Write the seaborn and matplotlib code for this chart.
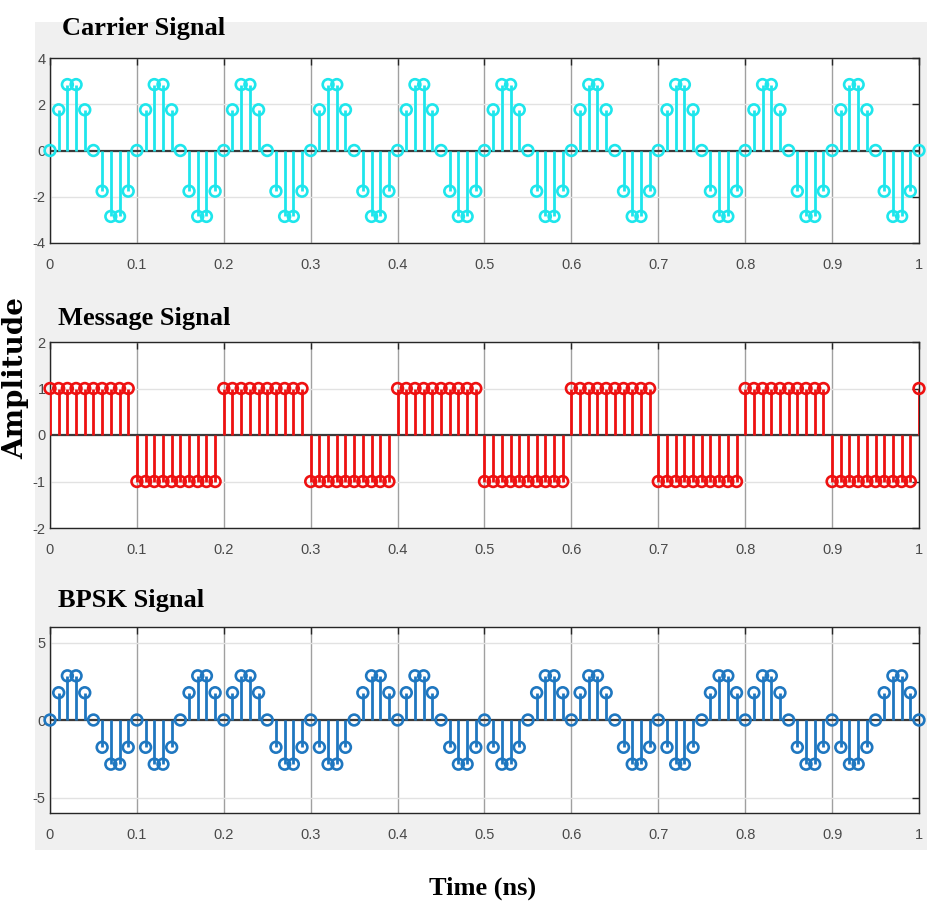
import matplotlib
matplotlib.use('Agg')
import matplotlib.pyplot as plt
import seaborn as sns
from matplotlib.patches import Rectangle

# ---------------- data ----------------
time_ns = [
    0.00, 0.01, 0.02, 0.03, 0.04, 0.05, 0.06, 0.07, 0.08, 0.09,
    0.10, 0.11, 0.12, 0.13, 0.14, 0.15, 0.16, 0.17, 0.18, 0.19,
    0.20, 0.21, 0.22, 0.23, 0.24, 0.25, 0.26, 0.27, 0.28, 0.29,
    0.30, 0.31, 0.32, 0.33, 0.34, 0.35, 0.36, 0.37, 0.38, 0.39,
    0.40, 0.41, 0.42, 0.43, 0.44, 0.45, 0.46, 0.47, 0.48, 0.49,
    0.50, 0.51, 0.52, 0.53, 0.54, 0.55, 0.56, 0.57, 0.58, 0.59,
    0.60, 0.61, 0.62, 0.63, 0.64, 0.65, 0.66, 0.67, 0.68, 0.69,
    0.70, 0.71, 0.72, 0.73, 0.74, 0.75, 0.76, 0.77, 0.78, 0.79,
    0.80, 0.81, 0.82, 0.83, 0.84, 0.85, 0.86, 0.87, 0.88, 0.89,
    0.90, 0.91, 0.92, 0.93, 0.94, 0.95, 0.96, 0.97, 0.98, 0.99,
    1.00,
]

carrier_amp = [
    0, 1.76, 2.85, 2.85, 1.76, 0, -1.76, -2.85, -2.85, -1.76,
    0, 1.76, 2.85, 2.85, 1.76, 0, -1.76, -2.85, -2.85, -1.76,
    0, 1.76, 2.85, 2.85, 1.76, 0, -1.76, -2.85, -2.85, -1.76,
    0, 1.76, 2.85, 2.85, 1.76, 0, -1.76, -2.85, -2.85, -1.76,
    0, 1.76, 2.85, 2.85, 1.76, 0, -1.76, -2.85, -2.85, -1.76,
    0, 1.76, 2.85, 2.85, 1.76, 0, -1.76, -2.85, -2.85, -1.76,
    0, 1.76, 2.85, 2.85, 1.76, 0, -1.76, -2.85, -2.85, -1.76,
    0, 1.76, 2.85, 2.85, 1.76, 0, -1.76, -2.85, -2.85, -1.76,
    0, 1.76, 2.85, 2.85, 1.76, 0, -1.76, -2.85, -2.85, -1.76,
    0, 1.76, 2.85, 2.85, 1.76, 0, -1.76, -2.85, -2.85, -1.76,
    0,
]

message_amp = [
    1, 1, 1, 1, 1, 1, 1, 1, 1, 1,
    -1, -1, -1, -1, -1, -1, -1, -1, -1, -1,
    1, 1, 1, 1, 1, 1, 1, 1, 1, 1,
    -1, -1, -1, -1, -1, -1, -1, -1, -1, -1,
    1, 1, 1, 1, 1, 1, 1, 1, 1, 1,
    -1, -1, -1, -1, -1, -1, -1, -1, -1, -1,
    1, 1, 1, 1, 1, 1, 1, 1, 1, 1,
    -1, -1, -1, -1, -1, -1, -1, -1, -1, -1,
    1, 1, 1, 1, 1, 1, 1, 1, 1, 1,
    -1, -1, -1, -1, -1, -1, -1, -1, -1, -1,
    1,
]

bpsk_amp = [
    0, 1.76, 2.85, 2.85, 1.76, 0, -1.76, -2.85, -2.85, -1.76,
    0, -1.76, -2.85, -2.85, -1.76, 0, 1.76, 2.85, 2.85, 1.76,
    0, 1.76, 2.85, 2.85, 1.76, 0, -1.76, -2.85, -2.85, -1.76,
    0, -1.76, -2.85, -2.85, -1.76, 0, 1.76, 2.85, 2.85, 1.76,
    0, 1.76, 2.85, 2.85, 1.76, 0, -1.76, -2.85, -2.85, -1.76,
    0, -1.76, -2.85, -2.85, -1.76, 0, 1.76, 2.85, 2.85, 1.76,
    0, 1.76, 2.85, 2.85, 1.76, 0, -1.76, -2.85, -2.85, -1.76,
    0, -1.76, -2.85, -2.85, -1.76, 0, 1.76, 2.85, 2.85, 1.76,
    0, 1.76, 2.85, 2.85, 1.76, 0, -1.76, -2.85, -2.85, -1.76,
    0, -1.76, -2.85, -2.85, -1.76, 0, 1.76, 2.85, 2.85, 1.76,
    0,
]

x_ticks = [0, 0.1, 0.2, 0.3, 0.4, 0.5, 0.6, 0.7, 0.8, 0.9, 1]
x_tick_labels = ['0', '0.1', '0.2', '0.3', '0.4', '0.5', '0.6', '0.7', '0.8', '0.9', '1']

panel_titles = ['Carrier Signal', 'Message Signal', 'BPSK Signal']
panel_values = [carrier_amp, message_amp, bpsk_amp]
panel_colors = ['#1ee6ec', '#ee1111', '#1f77c0']
panel_yticks = [[-4, -2, 0, 2, 4], [-2, -1, 0, 1, 2], [-5, 0, 5]]
panel_ylims = [(-4, 4), (-2, 2), (-6, 6)]

# ---------------- figure ----------------
sns.set_theme(style='white')
plt.rcParams['font.family'] = ['Liberation Sans Narrow', 'Liberation Sans', 'DejaVu Sans']

W, H = 928, 916
fig = plt.figure(figsize=(W / 100, H / 100), dpi=100)
fig.patch.set_facecolor('white')

fig.add_artist(Rectangle((35 / W, 1 - 850 / H), 1 - 35 / W, (850 - 22) / H,
                         transform=fig.transFigure, facecolor='#f0f0f0',
                         edgecolor='none', zorder=0))

# axes pixel boxes: (left, top, right, bottom)
boxes = [(50, 58, 919, 243), (50, 342, 919, 528), (50, 627, 919, 813)]
title_pos = [(62, 28), (58, 318), (58, 600)]

serif = ['Liberation Serif', 'DejaVu Serif']

for i in range(3):
    l, t, r, b = boxes[i]
    ax = fig.add_axes([l / W, 1 - b / H, (r - l) / W, (b - t) / H])
    ax.set_facecolor('white')
    color = panel_colors[i]
    vals = panel_values[i]

    ax.vlines(time_ns, 0, vals, color=color, lw=2.0, zorder=3)
    sns.scatterplot(x=time_ns, y=vals, ax=ax, marker='o', s=60,
                    color=color, facecolor='none', edgecolor=color,
                    linewidth=1.9, zorder=4, legend=False, clip_on=False)
    ax.axhline(0, color='#3a3a3a', lw=1.6, zorder=2)

    ax.set_xlim(0, 1)
    ax.set_ylim(*panel_ylims[i])
    ax.set_xticks(x_ticks)
    ax.set_xticklabels(x_tick_labels)
    ax.set_yticks(panel_yticks[i])
    ax.set_yticklabels([str(v) for v in panel_yticks[i]])

    ax.set_axisbelow(True)
    ax.xaxis.grid(True, color='#a0a0a0', lw=1.0)
    ax.yaxis.grid(True, color='#e2e2e2', lw=1.0)

    ax.tick_params(axis='both', direction='in', length=5, width=1.0,
                   colors='#262626', labelcolor='#4a4a4a', labelsize=10.5,
                   top=True, right=True)
    ax.tick_params(axis='x', pad=11)
    ax.tick_params(axis='y', pad=3)
    for sp in ax.spines.values():
        sp.set_color('#262626')
        sp.set_linewidth(1.0)
        sp.set_visible(True)

    tx, ty = title_pos[i]
    fig.text(tx / W, 1 - ty / H, panel_titles[i], family=serif,
             fontweight='bold', fontsize=19, color='black',
             ha='left', va='center')

fig.text(16 / W, 1 - 378 / H, 'Amplitude', family=['DejaVu Serif'],
         fontweight='bold', fontsize=20, color='black', rotation=90,
         ha='center', va='center')
fig.text(483 / W, 1 - 888 / H, 'Time (ns)', family=serif, fontweight='bold',
         fontsize=19, color='black', ha='center', va='center')

fig.savefig('out.png', dpi=100, facecolor='white')
